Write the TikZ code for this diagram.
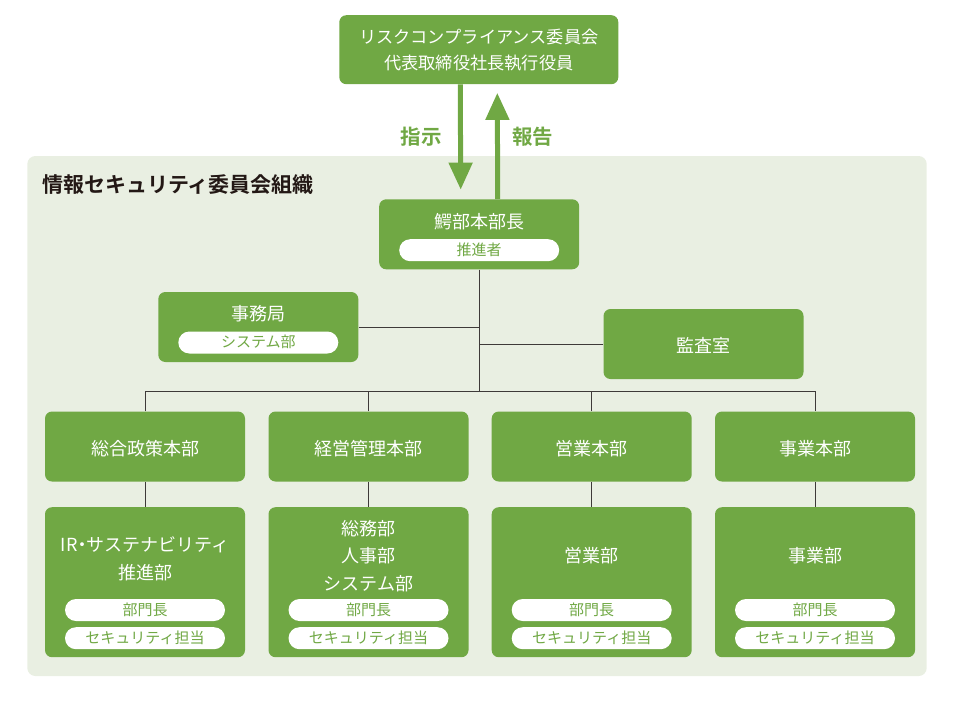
\documentclass[tikz,border=0pt]{standalone}
\usepackage{fontspec}
\setmainfont{Noto Sans CJK JP}[BoldFont={Noto Sans CJK JP Bold}]
\usetikzlibrary{arrows.meta}
\definecolor{boxgreen}{HTML}{70A844}
\definecolor{bggreen}{HTML}{E9EFE2}
\definecolor{linegray}{HTML}{3E3A39}
\definecolor{titlecol}{HTML}{231815}
\begin{document}
\begin{tikzpicture}[x=1pt,y=-1pt,
  gbox/.style={fill=boxgreen,rounded corners=7pt,inner sep=0pt,minimum width=200pt,minimum height=70pt},
  tallbox/.style={gbox,minimum height=150pt},
  pill/.style={fill=white,rounded corners=11pt,inner sep=0pt,minimum width=160pt,minimum height=22pt,
    text=boxgreen,font=\fontsize{15}{16}\selectfont,text height=11.8pt,text depth=1.6pt},
  boxtext/.style={text=white,inner sep=0pt,align=center,font=\fontsize{18}{27.5}\selectfont},
  conn/.style={draw=linegray,line width=1pt},
  bigarrow/.style={draw=boxgreen,line width=5pt,-{Triangle[width=23pt,length=27pt]}},
  armlabel/.style={text=boxgreen,inner sep=0pt,font=\fontsize{20.5}{22}\bfseries\selectfont}]
\useasboundingbox (0,0) rectangle (960,702);
% background panel
\fill[bggreen,rounded corners=8pt] (27.3,156) rectangle (926.7,676);
\node[anchor=west,text=titlecol,inner sep=0pt,font=\fontsize{21}{23}\bfseries\selectfont] (title) at (42,185) {情報セキュリティ委員会組織};
% top box
\node[gbox,minimum width=279pt,minimum height=69pt] (top) at (478.8,49.7) {};
\node[boxtext,font=\fontsize{17.2}{26.6}\selectfont] (toptext) at (478.8,50) {リスクコンプライアンス委員会\\代表取締役社長執行役員};
% promoter box
\node[gbox] (rp) at (479.2,234.3) {};
\node[boxtext] (rptext) at (479.2,221.7) {鰐部本部長};
\node[pill] (rppill) at (479.2,250.2) {推進者};
% arrows
\draw[bigarrow] ([xshift=-18.5pt]top.south) -- ([xshift=-18.5pt,yshift=9.5pt]rp.north);
\draw[bigarrow] ([xshift=18.5pt]rp.north) -- ([xshift=18.5pt,yshift=-8.5pt]top.south);
\node[armlabel] (shiji) at (421,136.5) {指示};
\node[armlabel] (houkoku) at (532.5,136.5) {報告};
% secretariat
\node[gbox] (jimu) at (258.3,327) {};
\node[boxtext] (jimutext) at (258.3,313.3) {事務局};
\node[pill] (jimupill) at (258.3,342.5) {システム部};
% audit
\node[gbox] (kansa) at (703.5,344) {};
\node[boxtext] (kansatext) at (703.5,345) {監査室};
% headquarters row
\node[gbox] (h1) at (145,446.5) {};
\node[gbox] (h2) at (368.5,446.5) {};
\node[gbox] (h3) at (591.7,446.5) {};
\node[gbox] (h4) at (815,446.5) {};
\node[boxtext] (h1t) at (145,448.3) {総合政策本部};
\node[boxtext] (h2t) at (368.5,448.3) {経営管理本部};
\node[boxtext] (h3t) at (591.7,448.3) {営業本部};
\node[boxtext] (h4t) at (815,448.3) {事業本部};
% department row
\node[tallbox] (b1) at (145,582.2) {};
\node[tallbox] (b2) at (368.5,582.2) {};
\node[tallbox] (b3) at (591.7,582.2) {};
\node[tallbox] (b4) at (815,582.2) {};
\node[boxtext] (b1t) at (145,559) {IR\kern-4.5pt・\kern-4.5pt サステナビリティ\\推進部};
\node[boxtext] (b2t) at (368.5,555.8) {総務部\\人事部\\システム部};
\node[boxtext] (b3t) at (591.7,555.7) {営業部};
\node[boxtext] (b4t) at (815,555.7) {事業部};
\foreach \b in {b1,b2,b3,b4}{
  \node[pill] (\b p1) at ([yshift=-27.8pt]\b.center) {部門長};
  \node[pill] (\b p2) at ([yshift=-56pt]\b.center) {セキュリティ担当};
}
% connectors
\coordinate (bus) at (479.2,391);
\draw[conn] (rp.south) -- (bus);
\draw[conn] (jimu.east) -- (jimu.east -| rp.south);
\draw[conn] (kansa.west) -- (kansa.west -| rp.south);
\draw[conn] (h1.north) |- (bus -| h4.north) -- (h4.north);
\draw[conn] (h2.north) -- (h2.north |- bus);
\draw[conn] (h3.north) -- (h3.north |- bus);
\foreach \i in {1,2,3,4}{
  \draw[conn] (h\i.south) -- (b\i.north);
}
\end{tikzpicture}
\end{document}
